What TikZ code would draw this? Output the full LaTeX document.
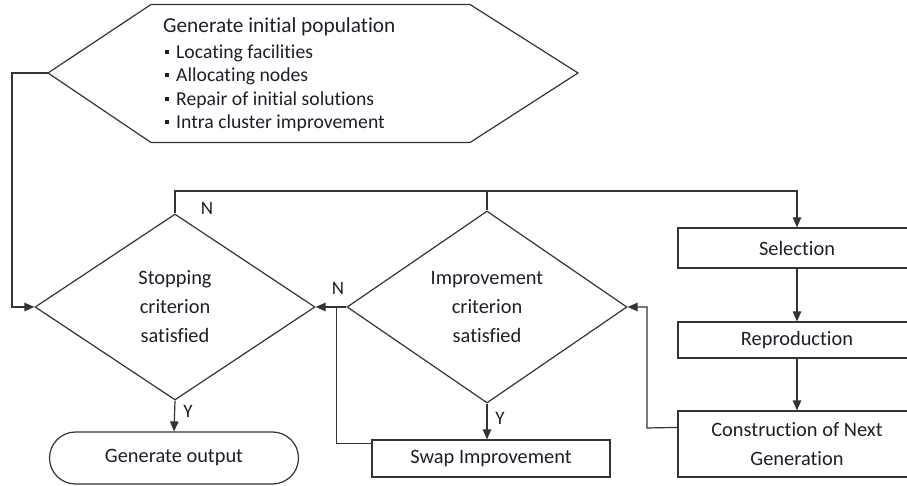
\documentclass[tikz,border=0pt]{standalone}
\usepackage{fontspec}
\setmainfont{Carlito}[Ligatures=NoCommon]
\usetikzlibrary{arrows.meta,shapes.geometric,shapes.misc}
\definecolor{ln}{HTML}{333333}
\definecolor{tx}{HTML}{1E1E2A}
\newcommand\sqbul{\rule[4pt]{4pt}{4pt}\hspace{7pt}}
\begin{document}
\begin{tikzpicture}[x=1pt,y=-1pt,
  every node/.style={text=tx},
  conn/.style={draw=ln, line width=1.2pt},
  arr/.style={conn, -{Triangle[length=10pt,width=8.5pt]}},
  dia/.style={shape=diamond, draw=ln, line width=1.2pt, minimum width=280pt, inner sep=0pt, aspect=1.5, align=center, font=\fontsize{20.4}{29}\selectfont},
  boxr/.style={draw=ln, line width=1.2pt, minimum width=238pt, inner sep=0pt, align=center, font=\fontsize{20.4}{29}\selectfont},
  bull/.style={anchor=base west, inner sep=0pt, font=\fontsize{19.7}{22}\selectfont},
  lbl/.style={font=\fontsize{19}{20}\selectfont, inner sep=0pt}
]
\useasboundingbox (0,0) rectangle (907,486);
\clip (0,0) rectangle (907,486);

% hexagon
\draw[ln, line width=1.2pt] (48,73) coordinate (hexL) -- (151,4.5) -- (470,4.5) -- (578,73) -- (470,142.5) -- (151,142.5) -- cycle;
\node[anchor=base west, inner sep=0pt, font=\fontsize{21.3}{24}\selectfont] (hhead) at (163,33) {Generate initial population};
\node[bull] (b1) at (165,58.5) {\sqbul Locating facilities};
\node[bull] (b2) at (165,81.5) {\sqbul Allocating nodes};
\node[bull] (b3) at (165,105.5) {\sqbul Repair of initial solutions};
\node[bull] (b4) at (165,128.5) {\sqbul Intra cluster improvement};

% decisions
\node[dia, minimum height=186pt] (stop) at (175,307) {Stopping\\criterion\\satisfied};
\node[dia, minimum height=192pt] (imp) at (487,307) {Improvement\\criterion\\satisfied};

% terminal
\node[draw=ln, line width=1.2pt, rounded rectangle, minimum width=249pt, minimum height=52pt, inner sep=0pt, font=\fontsize{20.4}{24}\selectfont] (out) at (174,458) {Generate output};

% boxes
\node[boxr, minimum height=37pt] (swap) at (491,458.5) {Swap Improvement};
\node[boxr, minimum height=40pt] (sel) at (797,248) {Selection};
\node[boxr, minimum height=36pt] (rep) at (797,340) {Reproduction};
\node[boxr, minimum height=66pt] (con) at (797,444) {Construction of Next\\Generation};

% connectors
\coordinate (topR) at (797,191);
\draw[arr] (hexL) -- (12,73) |- (stop.west);
\draw[arr] (stop.north) |- (topR) -- (sel.north);
\draw[conn] (imp.north) -- (imp.north |- topR);
\draw[arr] (imp.west) -- (stop.east);
\draw[conn] ([yshift=-4pt]swap.north west) -| ([xshift=-10pt]imp.west);
\draw[arr] (stop.south) -- (out.north);
\draw[arr] (imp.south) -- (imp.south |- swap.north);
\draw[arr] (sel.south) -- (rep.north);
\draw[arr] (rep.south) -- (con.north);
\draw[arr] ([yshift=-17pt]con.north west) -- (647,428) |- (imp.east);

% labels
\node[lbl] (n1) at (207,208) {N};
\node[lbl] (n2) at (338,288) {N};
\node[lbl] (y1) at (188,411) {Y};
\node[lbl] (y2) at (500,418) {Y};
\end{tikzpicture}
\end{document}
